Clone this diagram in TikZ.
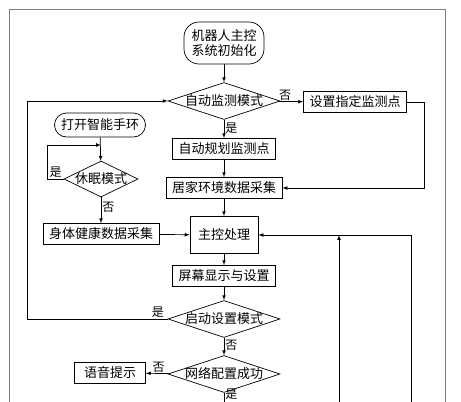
\documentclass[tikz,border=0pt]{standalone}
\usepackage{fontspec}
\newfontfamily\cjk{Noto Sans CJK SC}
\usetikzlibrary{shapes.geometric, arrows.meta, positioning}
\tikzset{>=latex}
\tikzset{
  every node/.style={font=\cjk\fontsize{13}{15}\selectfont},
  box/.style={draw, rectangle, inner xsep=6pt, inner ysep=0pt, minimum height=21pt},
  term/.style={draw, rectangle, rounded corners=12pt, inner xsep=4pt, inner ysep=3pt, align=center},
  decision/.style={draw, diamond, aspect=3, inner sep=-2pt, minimum width=112pt, minimum height=37pt},
  lbl/.style={inner sep=1pt, font=\cjk\fontsize{12}{14}\selectfont},
  flow/.style={line width=0.7pt}
}

\begin{document}
\begin{tikzpicture}[x=1pt, y=-1pt, flow]
\useasboundingbox (0,0) rectangle (461,402);
\clip (0,0) rectangle (461,402);
% outer frame
\draw[gray, line width=0.8pt] (9,402) -- (9,9) -- (445,9) -- (445,402);

% main column
\node[term, minimum width=80pt, minimum height=42pt, rounded corners=15pt, inner sep=1pt] (init) at (224,43) {机器人主控\\系统初始化};
\node[decision] (auto) at (224,101) {自动监测模式};
\node[box] (setp) at (355,102) {设置指定监测点};
\node[box] (plan) at (224,149) {自动规划监测点};
\node[box] (env) at (224,188) {居家环境数据采集};
\node[box, minimum width=68pt, minimum height=37pt] (main) at (224,235) {主控处理};
\node[box] (screen) at (224,276) {屏幕显示与设置};
\node[decision] (setm) at (224,319) {启动设置模式};
\node[decision] (net) at (224,374) {网络配置成功};
\node[box, minimum width=71pt] (voice) at (110,373) {语音提示};
\coordinate (netout) at (224,402);

% wristband column
\node[term, minimum width=91pt, minimum height=24pt, inner sep=1pt] (band) at (100,125) {打开智能手环};
\node[decision, aspect=2, minimum width=74pt, minimum height=36pt] (sleep) at (101,179) {休眠模式};
\node[box] (health) at (101,234) {身体健康数据采集};
\coordinate (loopin) at (101,145);

% bottom returns
\coordinate (ret1) at (339,402);
\coordinate (ret2) at (411,402);

\draw[->] (init) -- (auto);
\draw[->] (auto) -- node[lbl, above, pos=0.25]{否} (setp);
\draw[->] (setp.east) -- ++(17,0) |- (env.east);
\draw[->] (auto) -- node[lbl, right, pos=0.45]{是} (plan);
\draw[->] (plan) -- (env);
\draw[->] (env) -- (main);
\draw[->] (main) -- (screen);
\draw[->] (screen) -- (setm);
\draw[->] (setm.west) -- node[lbl, above, pos=0.07]{是} ++(-140,0) |- (auto.west);
\draw[->] (setm) -- node[lbl, right, pos=0.45]{否} (net);
\draw[->] (net) -- node[lbl, above, pos=0.45]{否} (voice);
\draw (net) -- node[lbl, right, pos=0.2]{是} (netout);

\draw[->] (band) -- (sleep);
\draw[->] (sleep.west) -- node[lbl, above, pos=0.5]{是} ++(-16,0) |- (loopin);
\draw[->] (sleep) -- node[lbl, right, pos=0.4]{否} (health);
\draw[->] (health) -- (main);

\draw[->] (ret2) |- (main.east);
\draw[->] (ret1) -- (ret1 |- main.east);
\end{tikzpicture}
\end{document}
